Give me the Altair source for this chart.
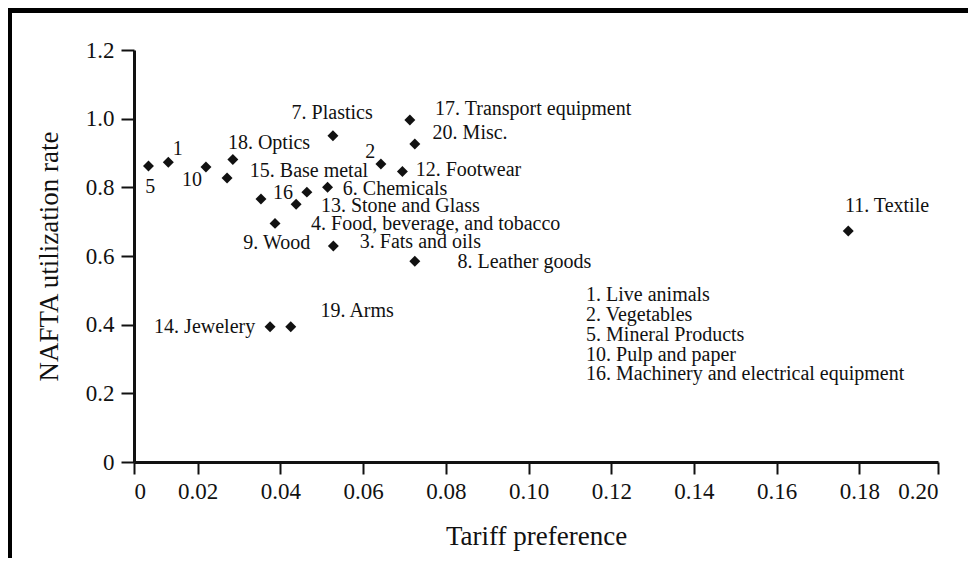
import altair as alt
import pandas as pd

# ---- data ----
sections = [
    "5. Mineral Products", "1. Live animals", "10. Pulp and paper", "15. Base metal",
    "18. Optics", "16. Machinery and electrical equipment", "9. Wood",
    "4. Food, beverage, and tobacco", "13. Stone and Glass", "6. Chemicals",
    "7. Plastics", "2. Vegetables", "12. Footwear", "17. Transport equipment",
    "20. Misc.", "3. Fats and oils", "8. Leather goods", "14. Jewelery",
    "19. Arms", "11. Textile",
]
tariff_preference = [0.0081, 0.0129, 0.0220, 0.0271, 0.0285, 0.0353, 0.0387,
                     0.0438, 0.0464, 0.0514, 0.0527, 0.0643, 0.0695, 0.0713,
                     0.0725, 0.0528, 0.0725, 0.0375, 0.0425, 0.1773]
utilization_rate = [0.862, 0.873, 0.859, 0.827, 0.881, 0.766, 0.695, 0.751,
                    0.786, 0.800, 0.950, 0.868, 0.846, 0.996, 0.926, 0.629,
                    0.585, 0.394, 0.394, 0.673]

# point annotations (text, anchor in data units, alignment)
label_text = ["5", "1", "10", "2", "16",
              "18. Optics", "15. Base metal", "6. Chemicals", "13. Stone and Glass",
              "4. Food, beverage, and tobacco", "3. Fats and oils", "8. Leather goods",
              "7. Plastics", "17. Transport equipment", "20. Misc.", "12. Footwear",
              "19. Arms", "11. Textile",
              "9. Wood", "14. Jewelery"]
label_x = [0.0085, 0.0152, 0.0186, 0.0617, 0.0406,
           0.0273, 0.0326, 0.0551, 0.0498,
           0.0474, 0.0592, 0.0828,
           0.0427, 0.0774, 0.0768, 0.0727,
           0.0497, 0.1765,
           0.0472, 0.0339]
label_y = [0.801, 0.912, 0.821, 0.904, 0.783,
           0.928, 0.849, 0.795, 0.747,
           0.692, 0.640, 0.582,
           1.016, 1.027, 0.959, 0.851,
           0.440, 0.746,
           0.637, 0.394]
label_align = ["center"] * 5 + ["left"] * 13 + ["right"] * 2

# key of the numbered-only sections
key_text = ["1. Live animals", "2. Vegetables", "5. Mineral Products",
            "10. Pulp and paper", "16. Machinery and electrical equipment"]
key_x = [0.1139] * 5
key_y = [0.486, 0.428, 0.370, 0.312, 0.256]

x_ticks = [0.0046, 0.02, 0.04, 0.06, 0.08, 0.10, 0.12, 0.14, 0.16, 0.18, 0.199]
y_ticks = [0, 0.2, 0.4, 0.6, 0.8, 1.0, 1.2]

FONT = "Liberation Serif"
INK = "#111111"

points = pd.DataFrame({"section": sections, "x": tariff_preference, "y": utilization_rate})
labels = pd.DataFrame({"text": label_text, "x": label_x, "y": label_y, "align": label_align})
keys = pd.DataFrame({"text": key_text, "x": key_x, "y": key_y})

xscale = alt.Scale(domain=[0.0046, 0.199], nice=False, zero=False)
yscale = alt.Scale(domain=[0, 1.2], nice=False)

xaxis = alt.Axis(
    values=x_ticks,
    labelExpr="datum.value < 0.01 ? '0' : (datum.value > 0.19 ? '0.20' : format(datum.value, '.2f'))",
    title="Tariff preference", titlePadding=20,
    labelPadding=6, tickSize=12,
)
yaxis = alt.Axis(
    values=y_ticks,
    labelExpr="datum.value == 0 ? '0' : format(datum.value, '.1f')",
    title="NAFTA utilization rate", titlePadding=22,
    labelPadding=7, tickSize=13,
)

pts = alt.Chart(points).mark_point(
    shape="diamond", filled=True, size=120, color="#111", opacity=1
).encode(
    x=alt.X("x:Q", scale=xscale, axis=xaxis),
    y=alt.Y("y:Q", scale=yscale, axis=yaxis),
)

layers = [pts]
for al in ["left", "center", "right"]:
    sub = labels[labels["align"] == al]
    layers.append(
        alt.Chart(sub).mark_text(align=al, baseline="middle", font=FONT,
                                 fontSize=20, color=INK).encode(
            x=alt.X("x:Q", scale=xscale), y=alt.Y("y:Q", scale=yscale), text="text:N")
    )

layers.append(
    alt.Chart(keys).mark_text(align="left", baseline="middle", font=FONT,
                              fontSize=20, color=INK).encode(
        x=alt.X("x:Q", scale=xscale), y=alt.Y("y:Q", scale=yscale), text="text:N")
)

# frame lines (top and left) of the reference figure
frame_top = alt.Chart(pd.DataFrame({"a": [0]})).mark_rule(color="#000", strokeWidth=5).encode(
    x=alt.value(-126), x2=alt.value(834), y=alt.value(-39.5))
frame_left = alt.Chart(pd.DataFrame({"a": [0]})).mark_rule(color="#000", strokeWidth=4).encode(
    x=alt.value(-124), y=alt.value(-42), y2=alt.value(508))
layers += [frame_top, frame_left]

chart = alt.layer(*layers).properties(
    width=804, height=412,
    autosize=alt.AutoSizeParams(type="none"),
    padding={"left": 126, "top": 42, "right": 30, "bottom": 96},
    background="white",
).configure_view(stroke=None).configure_axis(
    grid=False,
    domainColor="#111", domainWidth=3,
    tickColor="#111", tickWidth=2,
    labelFont=FONT, labelFontSize=23, labelColor=INK,
    titleFont=FONT, titleFontSize=27, titleFontWeight="normal", titleColor=INK,
)

chart.save("out.html", embed_options={"renderer": "svg", "actions": False})
